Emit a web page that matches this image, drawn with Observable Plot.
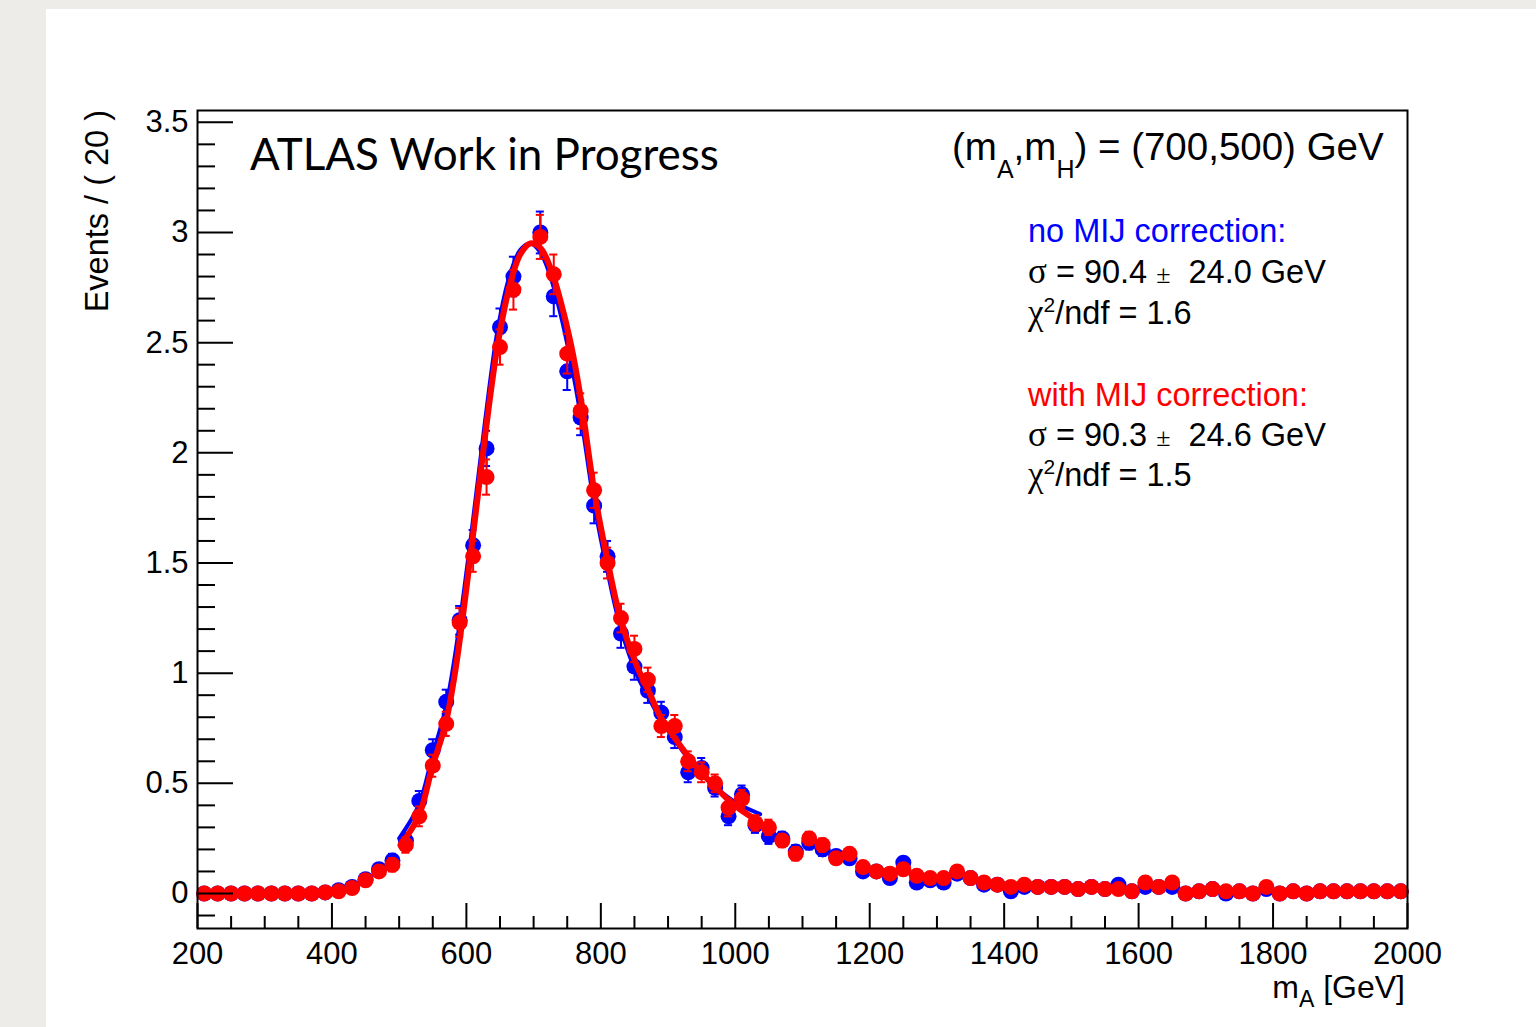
<!DOCTYPE html>
<html>
<head>
<meta charset="utf-8">
<script src="https://cdn.jsdelivr.net/npm/d3@7"></script>
<script src="https://cdn.jsdelivr.net/npm/@observablehq/plot@0.6"></script>
<style>
  html, body { margin: 0; padding: 0; background: #eeece9; }
  #page { position: relative; width: 1536px; height: 1027px; overflow: hidden; }
  #sheet { position: absolute; left: 46px; top: 9px; right: 0; bottom: 0; background: #ffffff; }
  #chart { position: absolute; left: 0; top: 0; }
  #notes { position: absolute; left: 0; top: 0; }
</style>
</head>
<body>
<div id="page">
  <div id="sheet"></div>
  <div id="chart"></div>
  <svg id="notes" width="1536" height="1027"></svg>
</div>
<script>
// m_A histogram, 20 GeV bins from 200 to 2000 GeV (bin centres)
const binCenters = d3.range(210, 2000, 20);

// Events per bin, with MIJ correction (red)
const redEvents = [
  0, 0, 0, 0, 0, 0, 0, 0, 0, 0.005,
  0.01, 0.025, 0.06, 0.10, 0.13, 0.22, 0.35, 0.58, 0.77, 1.23,
  1.53, 1.89, 2.48, 2.74, null, 2.98, 2.81, 2.45, 2.19, 1.83,
  1.50, 1.25, 1.11, 0.97, 0.76, 0.76, 0.60, 0.55, 0.50, 0.39,
  0.43, 0.32, 0.30, 0.24, 0.18, 0.25, 0.22, 0.16, 0.18, 0.12,
  0.10, 0.09, 0.11, 0.08, 0.07, 0.07, 0.10, 0.07, 0.05, 0.04,
  0.03, 0.04, 0.03, 0.03, 0.03, 0.02, 0.03, 0.02, 0.02, 0.01,
  0.05, 0.03, 0.05, 0.00, 0.01, 0.02, 0.01, 0.01, 0.00, 0.03,
  0.00, 0.01, 0.00, 0.01, 0.01, 0.01, 0.01, 0.01, 0.01, 0.01
];
const redErrors = [
  0.01, 0.01, 0.01, 0.01, 0.01, 0.01, 0.01, 0.01, 0.01, 0.01,
  0.01, 0.015, 0.02, 0.025, 0.03, 0.035, 0.045, 0.05, 0.055, 0.065,
  0.07, 0.08, 0.08, 0.09, null, 0.10, 0.09, 0.09, 0.08, 0.08,
  0.07, 0.065, 0.06, 0.055, 0.05, 0.05, 0.045, 0.045, 0.04, 0.04,
  0.04, 0.035, 0.035, 0.03, 0.03, 0.03, 0.03, 0.025, 0.025, 0.02,
  0.02, 0.02, 0.02, 0.02, 0.02, 0.02, 0.02, 0.02, 0.015, 0.015,
  0.015, 0.015, 0.015, 0.015, 0.015, 0.01, 0.015, 0.01, 0.01, 0.01,
  0.015, 0.01, 0.015, 0.01, 0.01, 0.01, 0.01, 0.01, 0.01, 0.01,
  0.01, 0.01, 0.01, 0.01, 0.01, 0.01, 0.01, 0.01, 0.01, 0.01
];

// Events per bin, no MIJ correction (blue)
const blueEvents = [
  0, 0, 0, 0, 0, 0, 0, 0, 0, 0.005,
  0.015, 0.03, 0.065, 0.11, 0.15, 0.24, 0.42, 0.65, 0.87, 1.24,
  1.58, 2.02, 2.57, 2.80, null, 3.00, 2.71, 2.37, 2.16, 1.76,
  1.53, 1.18, 1.03, 0.92, 0.82, 0.71, 0.55, 0.57, 0.48, 0.35,
  0.45, 0.31, 0.26, 0.25, 0.19, 0.23, 0.20, 0.17, 0.16, 0.10,
  0.10, 0.07, 0.14, 0.05, 0.06, 0.05, 0.09, 0.07, 0.04, 0.04,
  0.01, 0.03, 0.03, 0.03, 0.03, 0.02, 0.03, 0.02, 0.04, 0.01,
  0.03, 0.03, 0.03, 0.00, 0.01, 0.02, 0.00, 0.01, 0.00, 0.02,
  0.00, 0.01, 0.00, 0.01, 0.01, 0.01, 0.01, 0.01, 0.01, 0.01
];
const blueErrors = [
  0.01, 0.01, 0.01, 0.01, 0.01, 0.01, 0.01, 0.01, 0.01, 0.01,
  0.01, 0.015, 0.02, 0.025, 0.03, 0.035, 0.045, 0.05, 0.055, 0.065,
  0.07, 0.08, 0.085, 0.09, null, 0.095, 0.09, 0.085, 0.08, 0.08,
  0.07, 0.065, 0.06, 0.055, 0.05, 0.05, 0.045, 0.045, 0.04, 0.04,
  0.04, 0.035, 0.035, 0.03, 0.03, 0.03, 0.03, 0.025, 0.025, 0.02,
  0.02, 0.02, 0.02, 0.02, 0.02, 0.02, 0.02, 0.02, 0.015, 0.015,
  0.015, 0.015, 0.015, 0.015, 0.015, 0.01, 0.015, 0.01, 0.01, 0.01,
  0.015, 0.01, 0.015, 0.01, 0.01, 0.01, 0.01, 0.01, 0.01, 0.01,
  0.01, 0.01, 0.01, 0.01, 0.01, 0.01, 0.01, 0.01, 0.01, 0.01
];

// Fitted line shapes (knots along m_A)
const redFitX = [502, 529, 549, 569, 584, 606, 628, 646, 663, 680, 695, 710, 725, 740, 755, 770, 790, 810, 829, 854, 871, 889, 909, 928, 948, 968, 988, 1008, 1033];
const redFit  = [0.22, 0.35, 0.57, 0.77, 1.02, 1.53, 2.08, 2.48, 2.74, 2.90, 2.95, 2.93, 2.84, 2.69, 2.50, 2.25, 1.83, 1.51, 1.25, 1.03, 0.92, 0.80, 0.71, 0.63, 0.555, 0.49, 0.43, 0.38, 0.33];
const blueFitX = [500, 529, 549, 569, 584, 606, 628, 646, 663, 680, 695, 710, 725, 740, 755, 770, 790, 810, 829, 854, 871, 889, 909, 928, 948, 968, 988, 1008, 1037];
const blueFit  = [0.25, 0.40, 0.62, 0.84, 1.10, 1.60, 2.15, 2.55, 2.79, 2.92, 2.95, 2.91, 2.80, 2.63, 2.42, 2.17, 1.77, 1.46, 1.21, 0.99, 0.89, 0.79, 0.70, 0.62, 0.55, 0.49, 0.44, 0.40, 0.36];

// Axis ticks
const xMajorTicks = [200, 400, 600, 800, 1000, 1200, 1400, 1600, 1800, 2000];
const yMajorTicks = [0, 0.5, 1, 1.5, 2, 2.5, 3, 3.5];
const xMinorTicks = d3.range(200, 2001, 50).filter(v => v % 200 !== 0);
const yMinorTicks = d3.range(-1, 36).map(k => +(k / 10).toFixed(1)).filter(v => !yMajorTicks.includes(v));

const W = 1536, H = 1027;
const margin = {left: 197, right: 129, top: 110, bottom: 99};
const frameW = W - margin.left - margin.right;
const frameH = H - margin.top - margin.bottom;

const BLUE = "#0000ff", RED = "#ff0000";

const rows = (values, errors) => binCenters
  .map((x, i) => ({x, y: values[i], e: errors[i]}))
  .filter(d => d.y != null);
const redPts = rows(redEvents, redErrors);
const bluePts = rows(blueEvents, blueErrors);
const redCurve = redFitX.map((x, i) => ({x, y: redFit[i]}));
const blueCurve = blueFitX.map((x, i) => ({x, y: blueFit[i]}));

function pointMarks(data, color) {
  return [
    Plot.ruleX(data, {x: "x", y1: d => d.y - d.e, y2: d => d.y + d.e, stroke: color, strokeWidth: 2}),
    Plot.ruleY(data, {y: d => d.y + d.e, x1: d => d.x - 6, x2: d => d.x + 6, stroke: color, strokeWidth: 2}),
    Plot.ruleY(data, {y: d => d.y - d.e, x1: d => d.x - 6, x2: d => d.x + 6, stroke: color, strokeWidth: 2}),
    Plot.dot(data, {x: "x", y: "y", r: 8, fill: color, stroke: "none"})
  ];
}

const chart = Plot.plot({
  width: W,
  height: H,
  marginLeft: margin.left,
  marginRight: margin.right,
  marginTop: margin.top,
  marginBottom: margin.bottom,
  style: {background: "transparent", fontFamily: "'Liberation Sans', Arial, sans-serif", color: "black"},
  x: {domain: [200, 2000]},
  y: {domain: [-0.1589, 3.5536]},
  marks: [
    ...pointMarks(bluePts, BLUE),
    Plot.line(blueCurve, {x: "x", y: "y", stroke: BLUE, strokeWidth: 4, curve: "catmull-rom"}),
    ...pointMarks(redPts, RED),
    Plot.line(redCurve, {x: "x", y: "y", stroke: RED, strokeWidth: 6, curve: "catmull-rom"}),
    // inward ROOT-style ticks
    Plot.ruleX(xMinorTicks, {x: d => d, insetTop: frameH - 12, stroke: "black", strokeWidth: 2}),
    Plot.ruleX(xMajorTicks, {x: d => d, insetTop: frameH - 25, stroke: "black", strokeWidth: 2}),
    Plot.ruleY(yMinorTicks, {y: d => d, insetRight: frameW - 18, stroke: "black", strokeWidth: 2}),
    Plot.ruleY(yMajorTicks, {y: d => d, insetRight: frameW - 36, stroke: "black", strokeWidth: 2}),
    Plot.axisX({ticks: xMajorTicks, tickSize: 0, tickPadding: 13, fontSize: 31, label: null, tickFormat: d => String(d)}),
    Plot.axisY({ticks: yMajorTicks, tickSize: 0, tickPadding: 9, fontSize: 31, label: null, tickFormat: d => String(d)}),
    Plot.frame({stroke: "black", strokeWidth: 2})
  ]
});
document.getElementById("chart").appendChild(chart);

// Annotations
const notes = d3.select("#notes");
const SANS = "'Liberation Sans', Arial, sans-serif";
const SERIF = "'Liberation Serif', 'Times New Roman', serif";

function addText(x, y, parts, opts = {}) {
  const t = notes.append("text")
    .attr("x", x).attr("y", y)
    .attr("font-family", SANS)
    .attr("font-size", opts.size || 32.5)
    .attr("fill", opts.fill || "black")
    .attr("text-anchor", opts.anchor || "start")
    .attr("xml:space", "preserve")
    .style("white-space", "pre");
  if (opts.transform) t.attr("transform", opts.transform).attr("x", 0).attr("y", 0);
  for (const p of parts) {
    const s = t.append("tspan").text(p.t);
    if (p.font) s.attr("font-family", p.font);
    if (p.size) s.attr("font-size", p.size);
    if (p.dy != null) s.attr("dy", p.dy);
  }
  return t;
}

addText(250, 170, [{t: "ATLAS Work in Progress"}], {size: 44}).attr("font-family", "Lato, 'Open Sans', sans-serif");

addText(952, 160, [
  {t: "(m"}, {t: "A", size: 25, dy: 18}, {t: ",m", dy: -18}, {t: "H", size: 25, dy: 18},
  {t: ") = (700,500) GeV", dy: -18}
], {size: 38.5});

addText(1028, 242, [{t: "no MIJ correction:"}], {fill: BLUE});
addText(1028, 283, [{t: "\u03c3", font: SERIF, size: 35}, {t: " = 90.4 "}, {t: "\u00b1", font: SERIF, size: 26}, {t: "  24.0 GeV"}]);
addText(1028, 324, [{t: "\u03c7", font: SERIF, size: 35}, {t: "2", size: 21, dy: -12}, {t: "/ndf = 1.6", dy: 12}]);
addText(1028, 406, [{t: "with MIJ correction:"}], {fill: RED});
addText(1028, 446, [{t: "\u03c3", font: SERIF, size: 35}, {t: " = 90.3 "}, {t: "\u00b1", font: SERIF, size: 26}, {t: "  24.6 GeV"}]);
addText(1028, 486, [{t: "\u03c7", font: SERIF, size: 35}, {t: "2", size: 21, dy: -12}, {t: "/ndf = 1.5", dy: 12}]);

// axis titles
addText(0, 0, [{t: "Events / ( 20 )"}], {size: 32.5, anchor: "end", transform: "translate(108,110) rotate(-90)"});
addText(1405, 998, [{t: "m"}, {t: "A", size: 23, dy: 9}, {t: " [GeV]", dy: -9}], {size: 32, anchor: "end"});
</script>
</body>
</html>
